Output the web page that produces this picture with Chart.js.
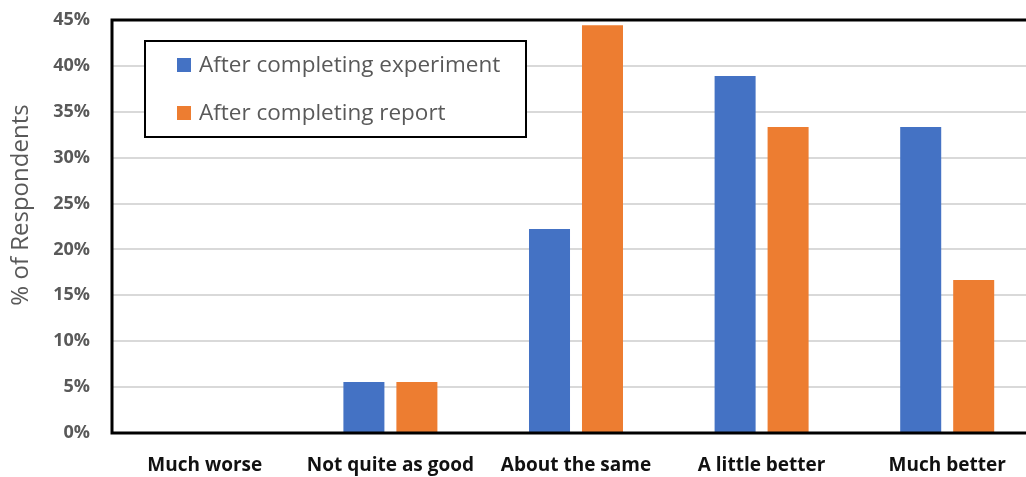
<!DOCTYPE html>
<html>
<head>
<meta charset="utf-8">
<script src="https://cdn.jsdelivr.net/npm/chart.js@4.4.1/dist/chart.umd.min.js"></script>
<style>
  html, body { margin: 0; padding: 0; background: #fff; overflow: hidden; }
  #clip { width: 1026px; height: 477px; overflow: hidden; }
  #wrap { position: relative; width: 1044px; height: 477px; }
</style>
</head>
<body>
<div id="clip"><div id="wrap"><canvas id="chart" width="1044" height="477"></canvas></div></div>
<script>
// Survey responses (n = 18), percent of respondents
const categories = ['Much worse', 'Not quite as good', 'About the same', 'A little better', 'Much better'];
const afterExperiment = [0, 5.56, 22.22, 38.89, 33.33];
const afterReport = [0, 5.56, 44.44, 33.33, 16.67];
const seriesNames = ['After completing experiment', 'After completing report'];
const seriesColors = ['#4472C4', '#ED7D31'];
const yTicks = [0, 5, 10, 15, 20, 25, 30, 35, 40, 45];
const yTitle = '% of Respondents';

const FONT = "'Open Sans', 'Liberation Sans', sans-serif";

// Black frame along the left, top and bottom of the plot area
const framePlugin = {
  id: 'frame',
  afterDraw(chart) {
    const { ctx, chartArea: a } = chart;
    ctx.save();
    ctx.strokeStyle = '#000';
    ctx.lineWidth = 3;
    ctx.lineJoin = 'miter';
    ctx.beginPath();
    ctx.moveTo(a.right, a.top);
    ctx.lineTo(a.left, a.top);
    ctx.lineTo(a.left, a.bottom);
    ctx.lineTo(a.right, a.bottom);
    ctx.stroke();
    ctx.restore();
  }
};

// Vertical axis title
const yTitlePlugin = {
  id: 'yTitle',
  afterDraw(chart) {
    const ctx = chart.ctx;
    ctx.save();
    ctx.translate(21, 205);
    ctx.rotate(-Math.PI / 2);
    ctx.font = '24px ' + FONT;
    ctx.fillStyle = '#595959';
    ctx.textAlign = 'center';
    ctx.textBaseline = 'middle';
    ctx.fillText(yTitle, 0, 0);
    ctx.restore();
  }
};

// Boxed legend inside the plot area
const boxLegendPlugin = {
  id: 'boxLegend',
  afterDraw(chart) {
    const ctx = chart.ctx;
    const bx = 145, by = 41, bw = 381, bh = 96;
    ctx.save();
    ctx.fillStyle = '#fff';
    ctx.fillRect(bx, by, bw, bh);
    ctx.strokeStyle = '#000';
    ctx.lineWidth = 2;
    ctx.strokeRect(bx, by, bw, bh);
    ctx.font = '22.5px ' + FONT;
    ctx.textBaseline = 'middle';
    chart.data.datasets.forEach((ds, i) => {
      const cy = 65 + i * 48;
      ctx.fillStyle = ds.backgroundColor;
      ctx.fillRect(177, cy - 7, 14, 14);
      ctx.fillStyle = '#595959';
      ctx.fillText(ds.label, 199, cy + 1);
    });
    ctx.restore();
  }
};

new Chart(document.getElementById('chart'), {
  type: 'bar',
  data: {
    labels: categories,
    datasets: [
      { label: seriesNames[0], data: afterExperiment, backgroundColor: seriesColors[0] },
      { label: seriesNames[1], data: afterReport, backgroundColor: seriesColors[1] }
    ]
  },
  options: {
    responsive: false,
    animation: false,
    events: [],
    categoryPercentage: 0.571,
    barPercentage: 0.774,
    layout: { padding: { top: 20, left: 0, right: 4, bottom: 0 } },
    plugins: { legend: { display: false }, tooltip: { enabled: false } },
    scales: {
      x: {
        grid: { display: false, drawTicks: false },
        border: { display: false },
        ticks: {
          color: '#111',
          font: { family: FONT, size: 19, weight: 'bold' },
          padding: 21,
          maxRotation: 0,
          autoSkip: false
        },
        afterFit(scale) { scale.height = 44; }
      },
      y: {
        min: 0,
        max: 45,
        afterBuildTicks(scale) { scale.ticks = yTicks.map(v => ({ value: v })); },
        grid: { color: '#d9d9d9', lineWidth: 2, drawTicks: false },
        border: { display: false },
        ticks: {
          color: '#595959',
          font: { family: FONT, size: 18, weight: 'bold' },
          padding: 22,
          callback: v => v + '%'
        },
        afterFit(scale) {
          scale.width = 112;
          scale.paddingTop = 0;
          scale.paddingBottom = 0;
        }
      }
    }
  },
  plugins: [framePlugin, yTitlePlugin, boxLegendPlugin]
});
</script>
</body>
</html>
